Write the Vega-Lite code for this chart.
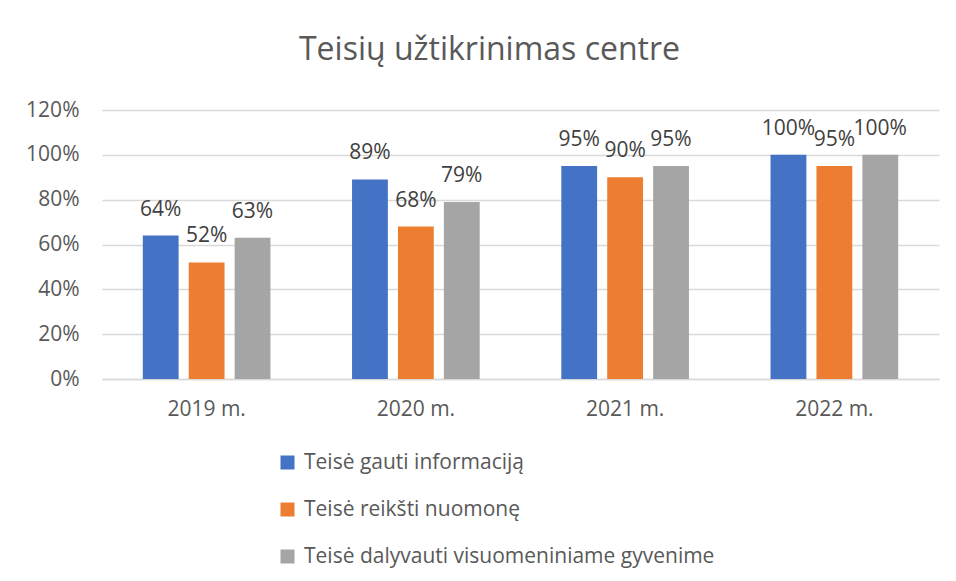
{
  "$schema": "https://vega.github.io/schema/vega-lite/v6.json",
  "width": 837,
  "height": 269,
  "autosize": {"type": "none"},
  "padding": {"left": 102, "top": 110, "right": 17, "bottom": 202},
  "background": "white",
  "config": {
    "font": "Open Sans",
    "view": {"stroke": null}
  },
  "title": {
    "text": "Teisių užtikrinimas centre",
    "fontSize": 32,
    "fontWeight": "normal",
    "color": "#595959",
    "anchor": "middle",
    "frame": "group",
    "dx": -31,
    "offset": 32
  },
  "data": {
    "values": [
      {"year": "2019 m.", "series": "Teisė gauti informaciją", "order": 1, "value": 0.64},
      {"year": "2019 m.", "series": "Teisė reikšti nuomonę", "order": 2, "value": 0.52},
      {"year": "2019 m.", "series": "Teisė dalyvauti visuomeniniame gyvenime", "order": 3, "value": 0.63},
      {"year": "2020 m.", "series": "Teisė gauti informaciją", "order": 1, "value": 0.89},
      {"year": "2020 m.", "series": "Teisė reikšti nuomonę", "order": 2, "value": 0.68},
      {"year": "2020 m.", "series": "Teisė dalyvauti visuomeniniame gyvenime", "order": 3, "value": 0.79},
      {"year": "2021 m.", "series": "Teisė gauti informaciją", "order": 1, "value": 0.95},
      {"year": "2021 m.", "series": "Teisė reikšti nuomonę", "order": 2, "value": 0.90},
      {"year": "2021 m.", "series": "Teisė dalyvauti visuomeniniame gyvenime", "order": 3, "value": 0.95},
      {"year": "2022 m.", "series": "Teisė gauti informaciją", "order": 1, "value": 1.00},
      {"year": "2022 m.", "series": "Teisė reikšti nuomonę", "order": 2, "value": 0.95},
      {"year": "2022 m.", "series": "Teisė dalyvauti visuomeniniame gyvenime", "order": 3, "value": 1.00}
    ]
  },
  "encoding": {
    "x": {
      "field": "year",
      "type": "nominal",
      "scale": {"paddingInner": 0.39, "paddingOuter": 0.195},
      "axis": {
        "title": null,
        "labelAngle": 0,
        "labelFontSize": 21,
        "labelColor": "#595959",
        "labelPadding": 19,
        "ticks": false,
        "domainColor": "#D9D9D9",
        "domainWidth": 1.5,
        "grid": false
      }
    },
    "xOffset": {
      "field": "series",
      "type": "nominal",
      "sort": ["Teisė gauti informaciją", "Teisė reikšti nuomonę", "Teisė dalyvauti visuomeniniame gyvenime"],
      "scale": {"paddingInner": 0.22, "paddingOuter": 0}
    },
    "y": {
      "field": "value",
      "type": "quantitative",
      "scale": {"domain": [0, 1.2], "nice": false},
      "axis": {
        "title": null,
        "values": [0, 0.2, 0.4, 0.6, 0.8, 1.0, 1.2],
        "format": ".0%",
        "labelFontSize": 21,
        "labelColor": "#595959",
        "labelPadding": 23,
        "ticks": false,
        "domain": false,
        "gridColor": "#D9D9D9",
        "gridWidth": 1.5
      }
    }
  },
  "layer": [
    {
      "mark": {"type": "bar"},
      "encoding": {
        "color": {
          "field": "series",
          "type": "nominal",
          "sort": ["Teisė gauti informaciją", "Teisė reikšti nuomonę", "Teisė dalyvauti visuomeniniame gyvenime"],
          "scale": {
            "domain": ["Teisė gauti informaciją", "Teisė reikšti nuomonę", "Teisė dalyvauti visuomeniniame gyvenime"],
            "range": ["#4472C4", "#ED7D31", "#A5A5A5"]
          },
          "legend": {
            "title": null,
            "orient": "none",
            "legendX": 175,
            "legendY": 342,
            "direction": "vertical",
            "symbolType": "square",
            "symbolSize": 196,
            "symbolStrokeWidth": 0,
            "labelFontSize": 21,
            "labelColor": "#595959",
            "labelOffset": 6,
            "rowPadding": 25,
            "padding": 0,
            "labelLimit": 600
          }
        }
      }
    },
    {
      "mark": {"type": "text", "dy": -26, "fontSize": 21, "color": "#404040", "baseline": "middle"},
      "encoding": {
        "text": {"field": "value", "type": "quantitative", "format": ".0%"}
      }
    }
  ]
}
